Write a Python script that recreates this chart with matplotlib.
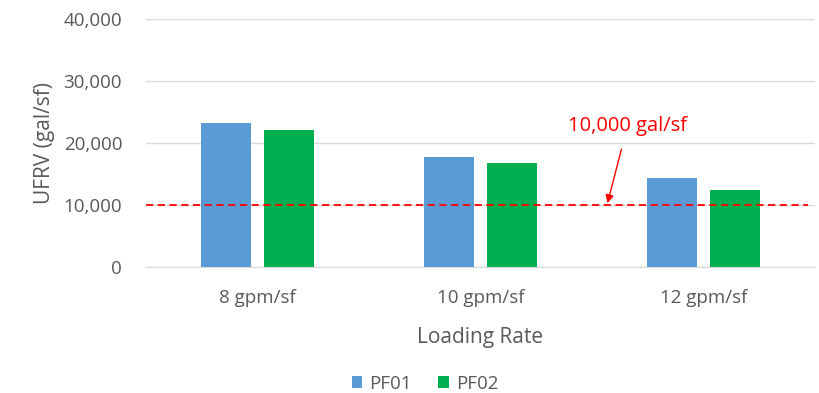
import numpy as np
import matplotlib
matplotlib.use("Agg")
import matplotlib.pyplot as plt
from matplotlib.ticker import FuncFormatter

plt.rcParams['font.family'] = ['Open Sans', 'DejaVu Sans']

# data
categories = ['8 gpm/sf', '10 gpm/sf', '12 gpm/sf']
pf01 = [23200, 17700, 14350]
pf02 = [22100, 16800, 12400]
target = 10000
yticks = [0, 10000, 20000, 30000, 40000]

grey = '#595959'
fig = plt.figure(figsize=(8.19, 3.93), dpi=100)
ax = fig.add_axes([0.178, 0.3206, 0.817, 0.631])

x = np.arange(len(categories))
w = 0.224
off = 0.141
ax.bar(x - off, pf01, width=w, color='#5B9BD5', label='PF01', zorder=2)
ax.bar(x + off, pf02, width=w, color='#00B050', label='PF02', zorder=2)

ax.set_xlim(-0.5, 2.5)
ax.set_ylim(0, 40000)
ax.set_yticks(yticks)
ax.yaxis.set_major_formatter(FuncFormatter(lambda v, p: f'{int(v):,}'))
ax.grid(axis='y', color='#D9D9D9', linewidth=1, zorder=0)
ax.set_xticks(x)
ax.set_xticklabels(categories)
for s in ax.spines.values():
    s.set_visible(False)
ax.spines['bottom'].set_visible(True)
ax.spines['bottom'].set_color('#D9D9D9')
ax.tick_params(axis='both', length=0, colors=grey, labelsize=13.5)
ax.tick_params(axis='x', pad=16)
ax.tick_params(axis='y', pad=17)

ax.axhline(target, xmin=0, xmax=0.99, color='#FF0000', linestyle=(0, (4, 2.5)), linewidth=1.3, zorder=3)
ax.annotate('10,000 gal/sf', xy=(1.57, target + 300), xytext=(1.66, 22800),
            color='#FF0000', fontsize=14.5, ha='center', va='center',
            arrowprops=dict(arrowstyle='-|>', color='#FF0000', lw=1, mutation_scale=12,
                            shrinkA=8, shrinkB=0))

ax.set_xlabel('Loading Rate', color=grey, fontsize=15, labelpad=14)
ax.set_ylabel('UFRV (gal/sf)', color=grey, fontsize=15, labelpad=6)

fig.legend(loc='center', bbox_to_anchor=(0.519, 0.024), ncol=2, frameon=False,
           fontsize=13.5, labelcolor=grey, handlelength=0.55, handleheight=0.55,
           handletextpad=0.4, columnspacing=1.4)

fig.savefig('out.png', dpi=100)
